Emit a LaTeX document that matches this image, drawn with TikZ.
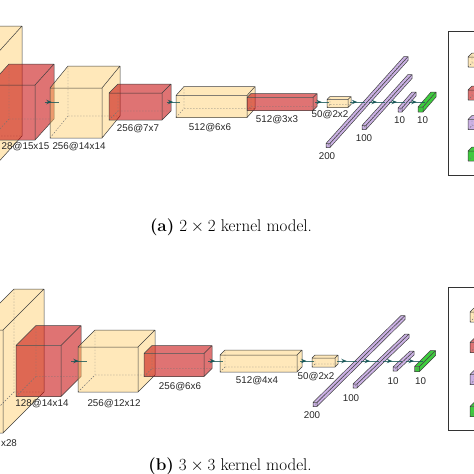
\RequirePackage{fix-cm}
\documentclass[tikz,border=0pt]{standalone}
\usepackage{fontspec}
\newfontfamily\labelfont{Liberation Sans}
\usetikzlibrary{arrows.meta,positioning,decorations.markings}
\definecolor{ConvYellow}{RGB}{255,204,102}
\definecolor{PoolRed}{RGB}{196,0,0}
\definecolor{FcPurple}{RGB}{153,102,204}
\definecolor{OutGreen}{RGB}{40,200,40}
\definecolor{ConnTeal}{RGB}{21,85,85}
\tikzset{
  conv fill/.style={fill=ConvYellow,fill opacity=0.45},
  pool fill/.style={fill=PoolRed,fill opacity=0.55},
  fc fill/.style={fill=FcPurple,fill opacity=0.5},
  out fill/.style={fill=OutGreen,fill opacity=0.9},
  box edge/.style={draw=black!75,line width=0.5pt,line join=round},
  hidden edge/.style={draw=black!55,line width=0.4pt,dash pattern=on 1.5pt off 1.5pt},
  layer label/.style={font=\labelfont\fontsize{9.8}{11}\selectfont,inner sep=1pt,text=black!85},
  panel caption/.style={font=\fontsize{17}{20}\selectfont,inner sep=1pt},
  legend frame/.style={draw=black!80,line width=0.9pt},
  connection/.style={draw=ConnTeal,line width=0.7pt,draw opacity=0.8,
    postaction={decorate},
    decoration={markings,mark=at position 0.5 with {\arrow[ConnTeal]{Stealth[length=5.5pt,width=4.5pt]}}}}
}
% #1 name, #2 fill, #3 front left x, #4 centre line y, #5 width, #6 height, #7/#8 depth x/y
\newcommand{\layerbox}[8]{%
  \begin{scope}[shift={(#3,{#4+#8/2})}]
    \fill[#2] (0,{-#6/2}) rectangle (#5,{#6/2});
    \fill[#2] (0,{-#6/2}) -- (#5,{-#6/2}) -- ({#5+#7},{-#6/2-#8}) -- (#7,{-#6/2-#8}) -- cycle;
    \fill[#2] (#5,{-#6/2}) -- (#5,{#6/2}) -- ({#5+#7},{#6/2-#8}) -- ({#5+#7},{-#6/2-#8}) -- cycle;
    \draw[hidden edge] (0,{#6/2}) -- (#7,{#6/2-#8}) -- (#7,{-#6/2-#8})
      (#7,{#6/2-#8}) -- ({#5+#7},{#6/2-#8});
    \draw[box edge] (0,{-#6/2}) rectangle (#5,{#6/2})
      (0,{-#6/2}) -- (#7,{-#6/2-#8}) -- ({#5+#7},{-#6/2-#8}) -- ({#5+#7},{#6/2-#8}) -- (#5,{#6/2})
      (#5,{-#6/2}) -- ({#5+#7},{-#6/2-#8});
    \coordinate (#1-west) at ({#7/2},{-#8/2});
    \coordinate (#1-east) at ({#5+#7/2},{-#8/2});
  \end{scope}}

\begin{document}
\begin{tikzpicture}[x=1pt,y=-1pt]
  \useasboundingbox (0,0) rectangle (474,474);
  \clip (0,0) rectangle (474,474);

  % (a) 2x2 kernels
  \layerbox{ina}{conv fill}{-46}{102}{30}{110}{38}{42}
  \layerbox{pool1a}{pool fill}{-10}{102}{45}{55}{19}{21}
  \layerbox{conv2a}{conv fill}{50}{102}{52}{50}{18}{22}
  \layerbox{pool2a}{pool fill}{109}{102}{53}{27}{9}{9}
  \layerbox{conv3a}{conv fill}{176}{102}{71}{22}{8}{9}
  \layerbox{pool3a}{pool fill}{247}{102}{66}{13}{4}{4}
  \layerbox{conv4a}{conv fill}{327}{102}{21}{8}{3}{3}
  \layerbox{fc1a}{fc fill}{326}{102}{4}{4}{78}{87}
  \layerbox{fc2a}{fc fill}{362}{102}{4}{4}{46}{51}
  \layerbox{fc3a}{fc fill}{398}{102}{4}{4}{14}{16}
  \layerbox{outa}{out fill}{418}{102}{5}{5}{13}{15}

  \draw[connection] (pool1a-east) -- (conv2a-west);
  \draw[connection] (pool2a-east) -- (conv3a-west);
  \draw[connection] (pool3a-east) -- (conv4a-west);
  \draw[connection] (conv4a-east) -- (fc1a-west);
  \draw[connection] (fc1a-east) -- (fc2a-west);
  \draw[connection] (fc2a-east) -- (fc3a-west);
  \draw[connection] (fc3a-east) -- (outa-west);

  \node[layer label] (pool1a-cap) at (25.5,147) {28@15x15};
  \node[layer label] (conv2a-cap) at (79,147) {256@14x14};
  \node[layer label] (pool2a-cap) at (138,129) {256@7x7};
  \node[layer label] (conv3a-cap) at (210,128) {512@6x6};
  \node[layer label] (pool3a-cap) at (277,120) {512@3x3};
  \node[layer label] (conv4a-cap) at (330,115) {50@2x2};
  \node[layer label] (fc1a-cap) at (327,156) {200};
  \node[layer label] (fc2a-cap) at (364,138) {100};
  \node[layer label] (fc3a-cap) at (399.5,120) {10};
  \node[layer label] (outa-cap) at (422.5,120) {10};

  \draw[legend frame] (448,31) rectangle (490,175);
  \layerbox{lega1}{conv fill}{468}{60}{10}{10}{4}{4}
  \layerbox{lega2}{pool fill}{468}{93}{10}{10}{4}{4}
  \layerbox{lega3}{fc fill}{468}{122.5}{10}{10}{4}{4}
  \layerbox{lega4}{out fill}{468}{154}{10}{10}{4}{4}

  \node[panel caption] (capa) at (231,227) {\textbf{(a)} $2\times2$ kernel model.};

  % (b) 3x3 kernels
  \layerbox{inb}{conv fill}{-27}{361}{30}{103}{41}{41}
  \layerbox{pool1b}{pool fill}{16}{361}{45}{51}{20}{20}
  \layerbox{conv2b}{conv fill}{78}{361}{60}{45}{17}{17}
  \layerbox{pool2b}{pool fill}{144}{361}{60}{23}{8}{8}
  \layerbox{conv3b}{conv fill}{220}{361}{77}{17}{5}{5}
  \layerbox{conv4b}{conv fill}{312}{361}{23}{9}{3}{3}
  \layerbox{fc1b}{fc fill}{313}{361}{4}{4}{88}{87}
  \layerbox{fc2b}{fc fill}{353}{361}{4}{4}{52}{50}
  \layerbox{fc3b}{fc fill}{393}{361}{4}{4}{17}{16}
  \layerbox{outb}{out fill}{414.5}{361}{5}{5}{16}{16}

  \draw[connection] (pool1b-east) -- (conv2b-west);
  \draw[connection] (pool2b-east) -- (conv3b-west);
  \draw[connection] (conv3b-east) -- (conv4b-west);
  \draw[connection] (conv4b-east) -- (fc1b-west);
  \draw[connection] (fc1b-east) -- (fc2b-west);
  \draw[connection] (fc2b-east) -- (fc3b-west);
  \draw[connection] (fc3b-east) -- (outb-west);

  \node[layer label] (inb-cap) at (9,443) {x28};
  \node[layer label] (pool1b-cap) at (42,404) {128@14x14};
  \node[layer label] (conv2b-cap) at (114,404) {256@12x12};
  \node[layer label] (pool2b-cap) at (180,387) {256@6x6};
  \node[layer label] (conv3b-cap) at (257,381) {512@4x4};
  \node[layer label] (conv4b-cap) at (316,377) {50@2x2};
  \node[layer label] (fc1b-cap) at (312,415) {200};
  \node[layer label] (fc2b-cap) at (351,398) {100};
  \node[layer label] (fc3b-cap) at (393,381) {10};
  \node[layer label] (outb-cap) at (420.5,381) {10};

  \draw[legend frame] (448,287) rectangle (490,430);
  \layerbox{legb1}{conv fill}{470}{315}{10}{10}{4}{4}
  \layerbox{legb2}{pool fill}{470}{345.5}{10}{10}{4}{4}
  \layerbox{legb3}{fc fill}{470}{377.5}{10}{10}{4}{4}
  \layerbox{legb4}{out fill}{470}{409.5}{10}{10}{4}{4}

  \node[panel caption] (capb) at (230,466) {\textbf{(b)} $3\times3$ kernel model.};
\end{tikzpicture}
\end{document}
